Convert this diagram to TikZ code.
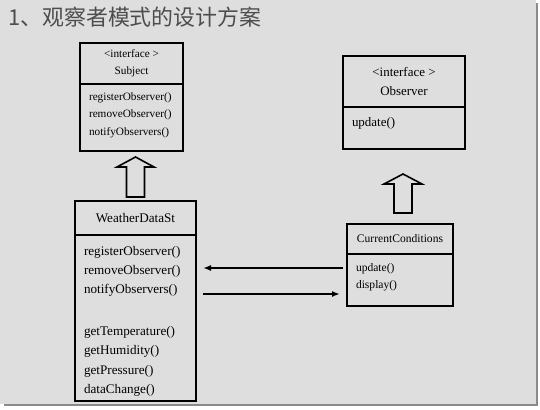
\documentclass[tikz,border=0pt]{standalone}
\usepackage{fontspec}
\setmainfont{Liberation Serif}
\newfontfamily\cjk{Noto Sans CJK SC}
\usetikzlibrary{
arrows.meta,
positioning
}
\definecolor{slide}{HTML}{DEDEDE}
\definecolor{slideshadow}{HTML}{8A8A8A}
\definecolor{titlegray}{HTML}{4D4D4D}

\begin{document}
\begin{tikzpicture}[
x=1bp, y=1bp,
head/.style={
rectangle,
draw,
line width=1.8bp,
outer sep=0pt,
align=center
},
body/.style={
rectangle,
draw,
line width=1.8bp,
outer sep=0pt,
inner xsep=9bp,
inner ysep=0pt,
align=left
},
arrow/.style={-{Latex[length=8bp,width=6bp]},line width=1.8bp},
hollow/.style={draw,line width=1.6bp,line join=miter}
]

\useasboundingbox (0,0) rectangle (540,409);
\fill[white] (0,0) rectangle (540,409);
\fill[slideshadow] (4,3) rectangle (538,406);
\fill[slide] (0,5.5) rectangle (536,409);

\node[anchor=west, inner sep=0pt, text=titlegray, font=\cjk\fontsize{22}{22}\selectfont] (title) at (8,392) {1、观察者模式的设计方案};

\node[head, minimum width=103bp, minimum height=41bp, font=\fontsize{11.3}{17}\selectfont] (subject) at (131.5,345.5) {<interface >\\Subject};
\node[body, below=0pt of subject, text width=85bp, text height=16.5bp, text depth=50.5bp, font=\fontsize{11.3}{17.5}\selectfont] (subjectm) {registerObserver()\\removeObserver()\\notifyObservers()};

\node[head, minimum width=122bp, minimum height=51bp, font=\fontsize{13}{19}\selectfont] (observer) at (404,327.5) {<interface >\\Observer};
\node[body, below=0pt of observer, text width=104bp, text height=19bp, text depth=23bp, font=\fontsize{13}{19}\selectfont] (observerm) {update()};

\node[head, minimum width=121bp, minimum height=34bp, font=\fontsize{13.2}{19.3}\selectfont] (weather) at (135.5,191) {WeatherDataSt};
\node[body, below=0pt of weather, text width=103bp, text height=20bp, text depth=146bp, font=\fontsize{13.2}{19.3}\selectfont] (weatherm) {registerObserver()\\removeObserver()\\notifyObservers()\\[23bp]getTemperature()\\getHumidity()\\getPressure()\\dataChange()};

\node[head, minimum width=106bp, minimum height=30bp, font=\fontsize{11.6}{17}\selectfont] (cond) at (400,170) {CurrentConditions};
\node[body, below=0pt of cond, text width=88bp, text height=17.5bp, text depth=34.5bp, font=\fontsize{11.6}{17}\selectfont] (condm) {update()\\display()};

\draw[hollow] ([xshift=-9bp,yshift=4bp]weather.north) -- ++(0,30) -- ++(-9.5,0) -- ++(18.5,10) -- ++(18.5,-10) -- ++(-9.5,0) -- ++(0,-30) -- cycle;
\draw[hollow] ([xshift=-6bp,yshift=11bp]cond.north) -- ++(0,29) -- ++(-10,0) -- ++(19,10) -- ++(19,-10) -- ++(-10,0) -- ++(0,-29) -- cycle;

\draw[arrow, shorten <=4bp, shorten >=7bp] ([yshift=12bp]condm.west) -- ([yshift=12bp]condm.west -| weatherm.east);
\draw[arrow, shorten <=7bp, shorten >=7bp] ([yshift=-14bp]condm.west -| weatherm.east) -- ([yshift=-14bp]condm.west);

\end{tikzpicture}
\end{document}
